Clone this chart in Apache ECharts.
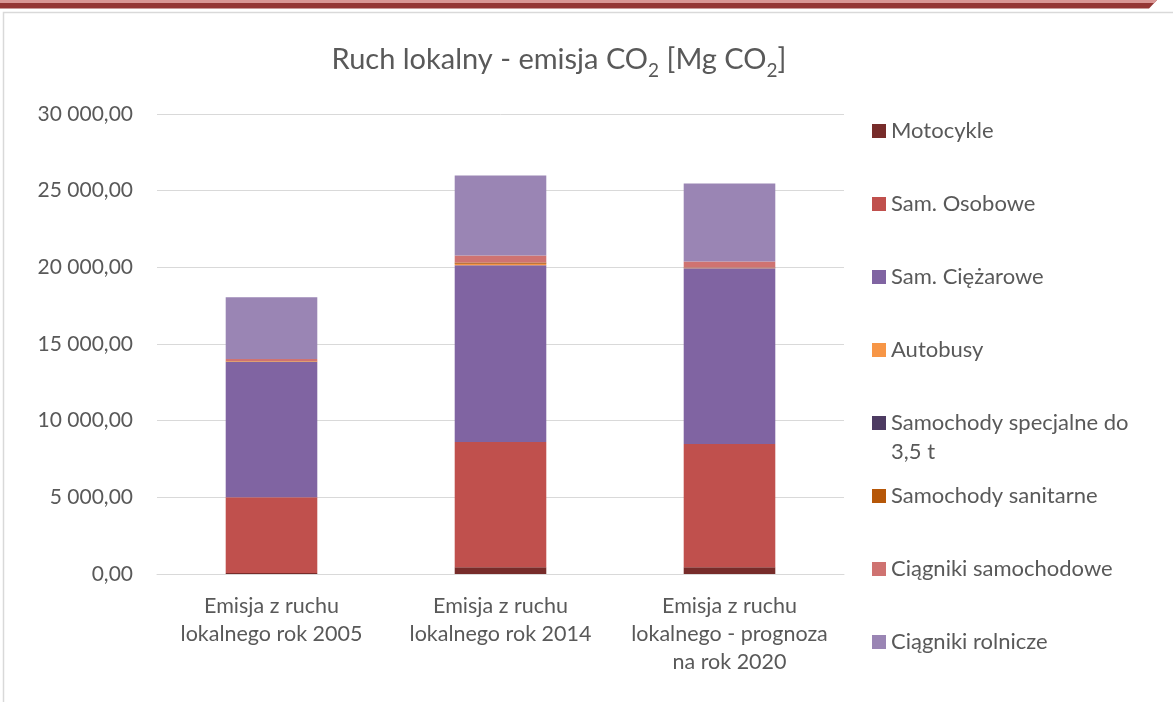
<!DOCTYPE html>
<html>
<head>
<meta charset="utf-8">
<script src="https://cdn.jsdelivr.net/npm/echarts@6/dist/echarts.min.js"></script>
<style>
  html, body { margin: 0; padding: 0; background: #ffffff; }
  #chart { width: 1173px; height: 702px; }
</style>
</head>
<body>
<div id="chart"></div>
<script>
const categories = [
  'Emisja z ruchu\nlokalnego rok 2005',
  'Emisja z ruchu\nlokalnego rok 2014',
  'Emisja z ruchu\nlokalnego - prognoza\nna rok 2020'
];
const seriesNames = [
  'Motocykle',
  'Sam. Osobowe',
  'Sam. Ciężarowe',
  'Autobusy',
  'Samochody specjalne do 3,5 t',
  'Samochody sanitarne',
  'Ciągniki samochodowe',
  'Ciągniki rolnicze'
];
const motocykle   = [60, 440, 437];
const osobowe     = [4940, 8165, 8038];
const ciezarowe   = [8840, 11538, 11473];
const autobusy    = [30, 70, 15];
const specjalne   = [5, 15, 5];
const sanitarne   = [10, 80, 15];
const samochodowe = [130, 470, 400];
const rolnicze    = [4040, 5212, 5085];
const yTicks = [0, 5000, 10000, 15000, 20000, 25000, 30000];

const seriesValues = [motocykle, osobowe, ciezarowe, autobusy, specjalne, sanitarne, samochodowe, rolnicze];
const colors = ['#772C2A', '#C0504D', '#8064A2', '#F79646', '#4D3B62', '#B65708', '#CF7371', '#9A85B4'];

const FONT = 'Lato';
const TXT = '#595959';

function fmt(v) {
  const s = Math.round(v).toString().replace(/\B(?=(\d{3})+(?!\d))/g, ' ');
  return s + ',00';
}

const legendCenters = [131, 204, 277, 350, 423, 496, 569, 642];
const legends = seriesNames.map((name, i) => {
  const multi = name === 'Samochody specjalne do 3,5 t';
  return {
    show: true,
    orient: 'vertical',
    left: 872,
    top: multi ? legendCenters[i] - 43.5 : legendCenters[i] - 13,
    padding: 0,
    itemWidth: 14,
    itemHeight: 14,
    itemGap: 0,
    icon: 'rect',
    selectedMode: false,
    data: [name],
    formatter: multi ? () => ' \nSamochody specjalne do\n3,5 t' : undefined,
    textStyle: {
      fontFamily: FONT,
      fontSize: 22,
      color: TXT,
      lineHeight: multi ? 29 : 26
    }
  };
});

const chart = echarts.init(document.getElementById('chart'), null, { renderer: 'canvas' });
chart.setOption({
  animation: false,
  backgroundColor: '#ffffff',
  color: colors,
  title: {
    text: '{m|Ruch lokalny - emisja CO}{s|2}{m| [Mg CO}{s|2}{m|]}',
    left: 559,
    top: 40,
    padding: 0,
    textAlign: 'center',
    textStyle: {
      fontWeight: 'normal',
      rich: {
        m: { fontFamily: FONT, fontSize: 29, fontWeight: 'normal', color: TXT, lineHeight: 40 },
        s: { fontFamily: FONT, fontSize: 19, fontWeight: 'normal', color: TXT, lineHeight: 19, verticalAlign: 'bottom' }
      }
    }
  },
  legend: legends,
  grid: { left: 157, right: 329, top: 114, bottom: 128, containLabel: false },
  xAxis: {
    type: 'category',
    data: categories,
    axisLine: { show: true, lineStyle: { color: '#D9D9D9', width: 1 } },
    axisTick: { show: false },
    axisLabel: {
      fontFamily: FONT, fontSize: 21.5, color: TXT, lineHeight: 28, margin: 18, interval: 0
    }
  },
  yAxis: {
    type: 'value',
    min: yTicks[0],
    max: yTicks[yTicks.length - 1],
    interval: 5000,
    axisLine: { show: false },
    axisTick: { show: false },
    splitLine: { lineStyle: { color: '#D9D9D9', width: 1 } },
    axisLabel: {
      fontFamily: FONT, fontSize: 21, color: TXT, margin: 24,
      formatter: (v) => fmt(v)
    }
  },
  graphic: [
    { type: 'polygon', shape: { points: [[0, 0], [1157, 0], [1149, 8.5], [0, 8.5]] }, style: { fill: '#943634' }, silent: true },
    { type: 'polygon', shape: { points: [[0, 0], [1157, 0], [1154.5, 3], [0, 3]] }, style: { fill: '#D99694' }, silent: true },
    { type: 'polyline', shape: { points: [[3.5, 702], [3.5, 12.5], [1173, 12.5]] }, style: { stroke: '#D9D9D9', lineWidth: 1.5, fill: null }, silent: true }
  ],
  series: seriesNames.map((name, i) => ({
    name: name,
    type: 'bar',
    stack: 'total',
    barCategoryGap: '60%',
    data: seriesValues[i],
    itemStyle: { color: colors[i] },
    emphasis: { disabled: true }
  }))
});
</script>
</body>
</html>
